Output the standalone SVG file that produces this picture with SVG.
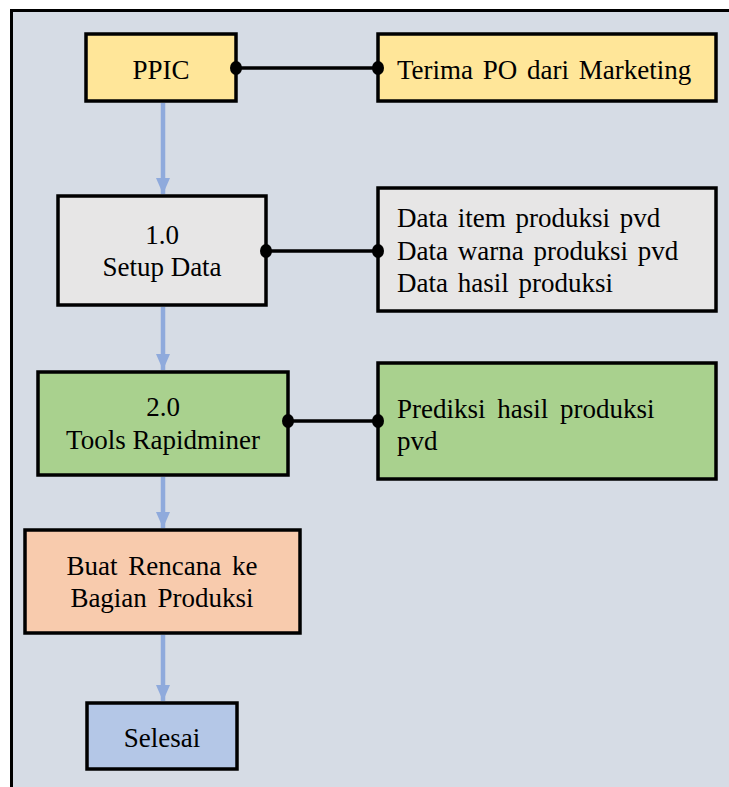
<svg xmlns="http://www.w3.org/2000/svg" width="729" height="787" viewBox="0 0 729 787">
<defs>
<style>
.box{stroke:#000;stroke-width:3.5}
.t{font-family:"Liberation Serif","Times New Roman",serif;font-size:27px;fill:#000}
.c{text-anchor:middle}
.flow{stroke:#8faadc;stroke-width:4.5;fill:none}
.link{stroke:#000;stroke-width:3.5}
</style>
<marker id="ah" viewBox="0 0 16 14" refX="16" refY="7" markerWidth="16" markerHeight="14" markerUnits="userSpaceOnUse" orient="auto">
<path d="M0,0 L16,7 L0,14 Z" fill="#8faadc"/>
</marker>
</defs>
<rect x="0" y="0" width="729" height="787" fill="#ffffff"/>
<rect id="frame" x="11.5" y="10.5" width="740" height="800" fill="#d6dce5" stroke="#000" stroke-width="3"/>
<g id="ppic">
<rect class="box" x="86" y="34" width="150" height="67" fill="#ffe699"/>
<text class="t c" x="161" y="79">PPIC</text>
</g>
<g id="terima">
<rect class="box" x="378" y="34" width="338" height="67" fill="#ffe699"/>
<text class="t" x="397" y="79" word-spacing="3">Terima PO dari Marketing</text>
</g>
<g id="setup">
<rect class="box" x="58" y="196" width="208" height="109" fill="#e7e6e6"/>
<text class="t c" x="162" y="244">1.0</text>
<text class="t c" x="162" y="276">Setup Data</text>
</g>
<g id="data">
<rect class="box" x="378" y="188" width="338" height="123" fill="#e7e6e6"/>
<text class="t" x="397" y="227" word-spacing="3">Data item produksi pvd</text>
<text class="t" x="397" y="260" word-spacing="3">Data warna produksi pvd</text>
<text class="t" x="397" y="292" word-spacing="3">Data hasil produksi</text>
</g>
<g id="tools">
<rect class="box" x="38" y="372" width="250" height="103" fill="#a9d18e"/>
<text class="t c" x="163" y="416">2.0</text>
<text class="t c" x="163" y="449">Tools Rapidminer</text>
</g>
<g id="prediksi">
<rect class="box" x="378" y="363" width="338" height="116" fill="#a9d18e"/>
<text class="t" x="397" y="418" word-spacing="5">Prediksi hasil produksi</text>
<text class="t" x="397" y="450">pvd</text>
</g>
<g id="buat">
<rect class="box" x="25" y="530" width="275" height="103" fill="#f8cbad"/>
<text class="t c" x="162" y="575" word-spacing="4">Buat Rencana ke</text>
<text class="t c" x="162" y="607" word-spacing="4">Bagian Produksi</text>
</g>
<g id="selesai">
<rect class="box" x="87" y="703" width="150" height="66" fill="#b4c7e7"/>
<text class="t c" x="162" y="747">Selesai</text>
</g>
<g id="connectors">
<line class="flow" x1="163" y1="103" x2="163" y2="194" marker-end="url(#ah)"/>
<line class="flow" x1="163" y1="307" x2="163" y2="370" marker-end="url(#ah)"/>
<line class="flow" x1="163" y1="477" x2="163" y2="528" marker-end="url(#ah)"/>
<line class="flow" x1="163" y1="635" x2="163" y2="701" marker-end="url(#ah)"/>
<line class="link" x1="236" y1="68" x2="378" y2="68"/>
<ellipse cx="236" cy="68" rx="6" ry="7"/>
<ellipse cx="378" cy="68" rx="6" ry="7"/>
<line class="link" x1="266" y1="251" x2="378" y2="251"/>
<ellipse cx="266" cy="251" rx="6" ry="7"/>
<ellipse cx="378" cy="251" rx="6" ry="7"/>
<line class="link" x1="288" y1="421" x2="378" y2="421"/>
<ellipse cx="288" cy="421" rx="6" ry="7"/>
<ellipse cx="378" cy="421" rx="6" ry="7"/>
</g>
</svg>
